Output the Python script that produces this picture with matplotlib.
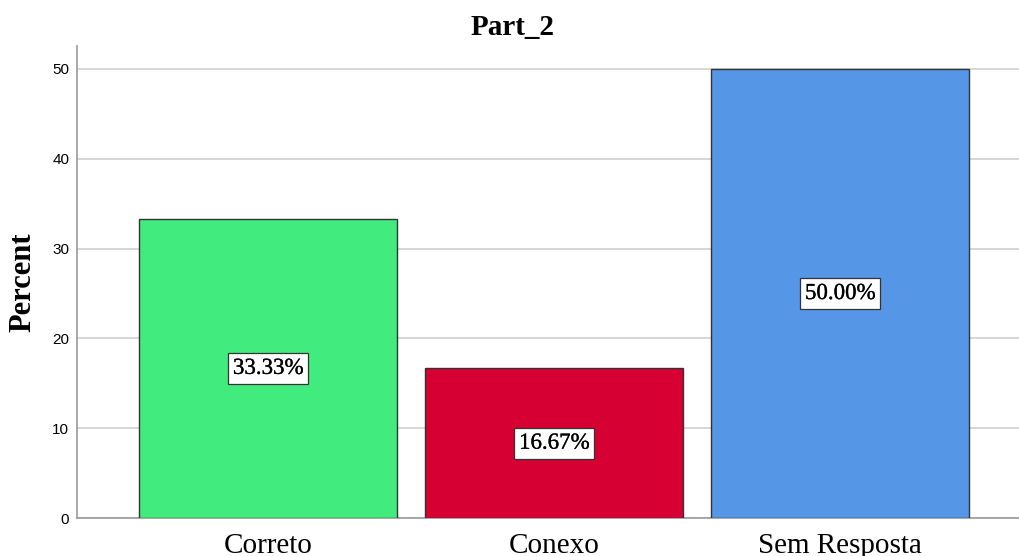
import matplotlib.pyplot as plt
import matplotlib.patheffects as pe

# Part_2 response shares
categories = ['Correto', 'Conexo', 'Sem Resposta']
percents = [33.33, 16.67, 50.00]
colors = ['#42eb7e', '#d60032', '#5596e6']
yticks = [0, 10, 20, 30, 40, 50]

serif = ['Liberation Serif', 'DejaVu Serif']
sans = ['Liberation Sans', 'DejaVu Sans']

fig = plt.figure(figsize=(10.2, 5.56), dpi=100)
ax = fig.add_axes([0.0755, 0.0683, 0.9245, 0.849])

x = range(len(categories))
ax.bar(x, percents, width=0.902, color=colors, edgecolor='#333333',
       linewidth=1.0, zorder=3)

# value labels in white boxes at half bar height
for i, p in zip(x, percents):
    ax.text(i, p / 2, f'{p:.2f}%', ha='center', va='center',
            fontsize=16.5, family=serif, color='black', zorder=4,
            path_effects=[pe.withStroke(linewidth=0.2, foreground='black')],
            bbox=dict(boxstyle='square,pad=0.22', facecolor='white',
                      edgecolor='#333333', linewidth=0.9))

ax.set_xlim(-0.668, 2.629)
ax.set_ylim(0, 52.56)
ax.set_yticks(yticks)
ax.set_xticks(list(x))
ax.set_xticklabels(categories, fontsize=21, family=serif)
for lbl in ax.get_yticklabels():
    lbl.set_family(sans)
    lbl.set_fontsize(11)

ax.grid(axis='y', color='#d0d0d0', linewidth=1.2, zorder=0)
ax.tick_params(axis='x', length=0, pad=11)
ax.tick_params(axis='y', length=0, pad=5.5)

for side in ['top', 'right']:
    ax.spines[side].set_visible(False)
ax.spines['left'].set_color('#999999')
ax.spines['left'].set_linewidth(1.2)
ax.spines['bottom'].set_color('#999999')
ax.spines['bottom'].set_linewidth(1.2)

ax.set_ylabel('Percent', fontsize=22, family=serif, fontweight='bold', labelpad=10.5)
fig.text(513 / 1020, 0.937, 'Part_2', ha='center', va='baseline',
         fontsize=21, family=serif, fontweight='bold')

fig.savefig('out.png', dpi=100)
